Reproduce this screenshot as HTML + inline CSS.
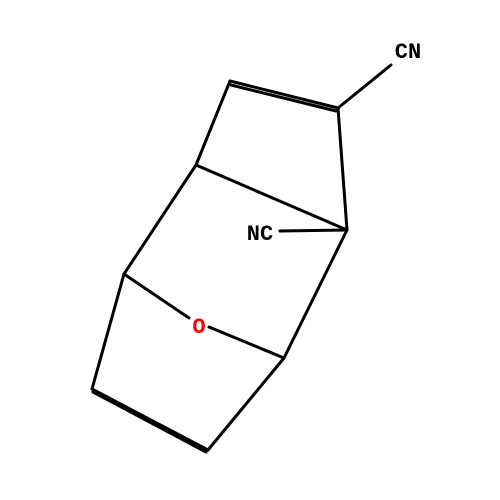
<!DOCTYPE html>
<html><head><meta charset="utf-8"><style>html,body{margin:0;padding:0;background:#fff}svg{display:block}</style></head>
<body>
<svg width="500" height="500" viewBox="0 0 500 500">
<g stroke="#000" stroke-width="3" stroke-linecap="round" fill="none">
<line x1="230" y1="81" x2="338" y2="108"/>
<line x1="231" y1="85" x2="336" y2="111"/>
<line x1="338" y1="108" x2="391" y2="65"/>
<line x1="338" y1="108" x2="347" y2="230"/>
<line x1="347" y1="230" x2="196" y2="165"/>
<line x1="196" y1="165" x2="230" y2="81"/>
<line x1="280" y1="231" x2="347" y2="230"/>
<line x1="196" y1="165" x2="124" y2="274"/>
<line x1="124" y1="274" x2="189" y2="318"/>
<line x1="209" y1="327" x2="284" y2="358"/>
<line x1="284" y1="358" x2="347" y2="230"/>
<line x1="124" y1="274" x2="92" y2="389"/>
<line x1="92" y1="389" x2="208" y2="450"/>
<line x1="93" y1="392" x2="206" y2="452"/>
<line x1="208" y1="450" x2="284" y2="358"/>
</g>
<g font-family="Liberation Mono, monospace" font-weight="bold" font-size="22" text-anchor="middle">
<text x="408" y="58" fill="#000">CN</text>
<text x="260" y="240" fill="#000">NC</text>
<text x="199" y="333" fill="#ff0000">O</text>
</g>
</svg>
</body></html>
